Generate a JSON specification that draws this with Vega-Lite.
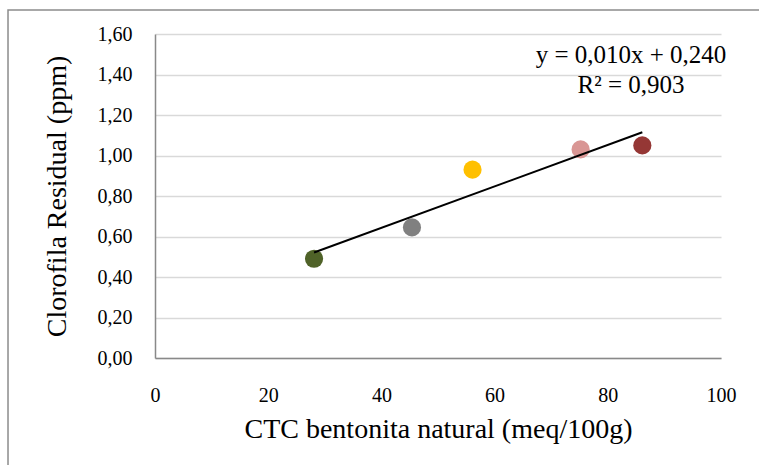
{
  "$schema": "https://vega.github.io/schema/vega-lite/v6.json",
  "width": 566,
  "height": 324,
  "autosize": {"type": "none"},
  "padding": {"left": 155, "top": 34, "right": 38, "bottom": 107},
  "background": "white",
  "config": {
    "view": {"stroke": null},
    "font": "Liberation Serif"
  },
  "datasets": {
    "amostras": [
      {"amostra": "B1", "ctc": 28.1, "clorofila": 0.49},
      {"amostra": "B2", "ctc": 45.4, "clorofila": 0.645},
      {"amostra": "B3", "ctc": 56.1, "clorofila": 0.93},
      {"amostra": "B4", "ctc": 75.2, "clorofila": 1.03},
      {"amostra": "B5", "ctc": 86.1, "clorofila": 1.05}
    ]
  },
  "layer": [
    {
      "data": {"values": [{}]},
      "mark": {"type": "rect", "fill": null, "stroke": "#8c8c8c", "strokeWidth": 1.5, "clip": false},
      "encoding": {
        "x": {"datum": -25.97, "type": "quantitative", "scale": {"domain": [0, 100]}},
        "x2": {"datum": 115},
        "y": {"datum": 1.7185, "type": "quantitative", "scale": {"domain": [0, 1.6]}},
        "y2": {"datum": -0.6}
      }
    },
    {
      "data": {"name": "amostras"},
      "mark": {"type": "point", "filled": true, "opacity": 1, "size": 330},
      "encoding": {
        "x": {
          "field": "ctc",
          "type": "quantitative",
          "scale": {"domain": [0, 100], "nice": false},
          "axis": {
            "title": "CTC bentonita natural (meq/100g)",
            "values": [0, 20, 40, 60, 80, 100],
            "grid": false,
            "ticks": false,
            "tickSize": 0,
            "domainColor": "#898989",
            "domainWidth": 1.5,
            "labelFont": "Liberation Serif",
            "labelFontSize": 20,
            "labelColor": "black",
            "labelPadding": 27,
            "labelFlush": false,
            "titleFont": "Liberation Serif",
            "titleFontSize": 28,
            "titleFontWeight": "normal",
            "titleColor": "black",
            "titleBaseline": "alphabetic",
            "titleY": 79
          }
        },
        "y": {
          "field": "clorofila",
          "type": "quantitative",
          "scale": {"domain": [0, 1.6], "nice": false},
          "axis": {
            "title": "Clorofila Residual (ppm)",
            "values": [0, 0.2, 0.4, 0.6, 0.8, 1.0, 1.2, 1.4, 1.6],
            "format": ".2f",
            "labelExpr": "replace(datum.label, '.', ',')",
            "grid": true,
            "gridColor": "#d9d9d9",
            "gridWidth": 1.3,
            "ticks": false,
            "tickSize": 0,
            "domainColor": "#898989",
            "domainWidth": 1.5,
            "labelFont": "Liberation Serif",
            "labelFontSize": 20,
            "labelColor": "black",
            "labelPadding": 23,
            "labelFlush": false,
            "titleFont": "Liberation Serif",
            "titleFontSize": 28,
            "titleFontWeight": "normal",
            "titleColor": "black",
            "titleAngle": -90,
            "titleAlign": "center",
            "titleBaseline": "alphabetic",
            "titleX": -90,
            "titleY": 162
          }
        },
        "color": {
          "field": "amostra",
          "type": "nominal",
          "scale": {
            "domain": ["B1", "B2", "B3", "B4", "B5"],
            "range": ["#4f6228", "#808080", "#ffc000", "#d99694", "#953735"]
          },
          "legend": null
        }
      }
    },
    {
      "data": {"name": "amostras"},
      "transform": [
        {"regression": "clorofila", "on": "ctc", "extent": [28.1, 86.1]}
      ],
      "mark": {"type": "line", "color": "black", "strokeWidth": 2},
      "encoding": {
        "x": {"field": "ctc", "type": "quantitative"},
        "y": {"field": "clorofila", "type": "quantitative"}
      }
    },
    {
      "data": {"values": [{}]},
      "mark": {
        "type": "text",
        "font": "Liberation Serif",
        "fontSize": 25,
        "align": "center",
        "baseline": "alphabetic",
        "lineHeight": 29.4,
        "color": "black",
        "text": ["y = 0,010x + 0,240", "R² = 0,903"]
      },
      "encoding": {
        "x": {"datum": 84.1, "type": "quantitative"},
        "y": {"datum": 1.455, "type": "quantitative"}
      }
    }
  ]
}
